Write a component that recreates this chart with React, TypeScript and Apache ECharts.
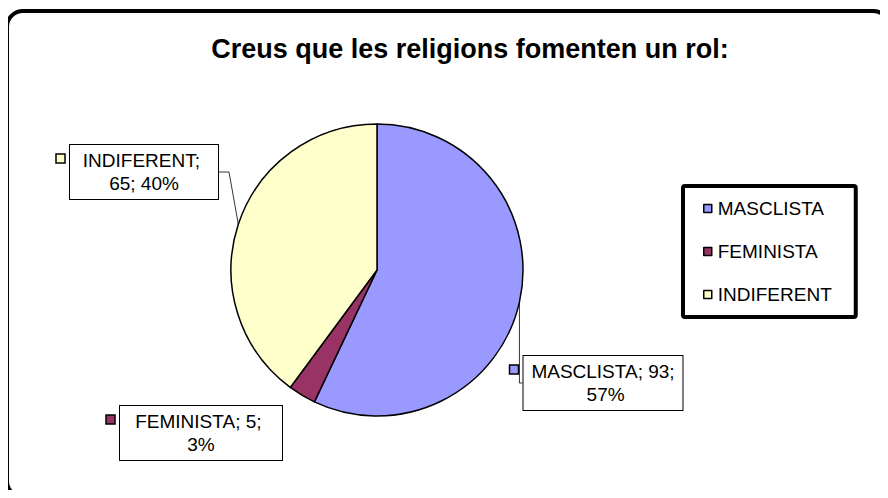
import React, { useEffect, useRef } from "react";
import * as echarts from "echarts";

const TITLE = "Creus que les religions fomenten un rol:";
const CATEGORIES = ["MASCLISTA", "FEMINISTA", "INDIFERENT"];
const VALUES = [93, 5, 65];
const COLORS = ["#9999FF", "#993366", "#FFFFCC"];

// label box layout (centre x, centre y, text width)
const LABEL_LAYOUT: Record<string, { x: number; y: number; w: number; line: boolean }> = {
  MASCLISTA: { x: 603, y: 383, w: 149, line: true },
  FEMINISTA: { x: 201, y: 433, w: 152, line: false },
  INDIFERENT: { x: 144, y: 172, w: 138, line: true },
};

export default function App() {
  const ref = useRef<HTMLDivElement>(null);
  useEffect(() => {
    if (!ref.current) return;
    const chart = echarts.init(ref.current, undefined, { renderer: "svg" });
    const font = "Liberation Sans, Arial, sans-serif";
    const data = CATEGORIES.map((name, i) => ({
      name,
      value: VALUES[i],
      itemStyle: { color: COLORS[i] },
      label: { width: LABEL_LAYOUT[name].w },
      labelLine: { show: LABEL_LAYOUT[name].line },
    }));
    const markers: any[] = CATEGORIES.map((name, i) => {
      const L = LABEL_LAYOUT[name];
      return {
        type: "rect",
        shape: { x: L.x - L.w / 2 - 5 - 14, y: L.y - 18, width: 9, height: 9 },
        style: { fill: COLORS[i], stroke: "#000", lineWidth: 1.5 },
        z: 10,
      };
    });
    chart.setOption({
      animation: false,
      backgroundColor: "#fff",
      title: {
        text: TITLE,
        left: 465,
        top: 30,
        textAlign: "center",
        textStyle: { fontFamily: font, fontSize: 27, fontWeight: "bold", color: "#000" },
      },
      legend: {
        orient: "vertical",
        left: 683,
        top: 186,
        data: CATEGORIES,
        icon: "rect",
        itemWidth: 8,
        itemHeight: 8,
        itemGap: 22,
        padding: [12, 24, 12, 20],
        backgroundColor: "#fff",
        borderColor: "#000",
        borderWidth: 4,
        borderRadius: 2,
        itemStyle: { borderColor: "#000", borderWidth: 1.5 },
        textStyle: { fontFamily: font, fontSize: 19, color: "#000", lineHeight: 21, padding: [0, 0, 0, 1] },
      },
      graphic: [
        {
          type: "rect",
          shape: { x: 7, y: 11, width: 882, height: 486, r: 16 },
          style: { fill: "none", stroke: "#000", lineWidth: 4 },
          z: 100,
        },
        ...markers,
      ],
      series: [
        {
          type: "pie",
          center: [377, 270],
          radius: 146,
          startAngle: 90,
          clockwise: true,
          percentPrecision: 0,
          itemStyle: { borderColor: "#000", borderWidth: 1.5 },
          emphasis: { disabled: true },
          data,
          label: {
            show: true,
            formatter: "{b}; {c}; {d}%",
            overflow: "break",
            fontFamily: font,
            fontSize: 19,
            lineHeight: 23,
            color: "#000",
            align: "center",
            backgroundColor: "#fff",
            borderColor: "#000",
            borderWidth: 1,
            padding: [4, 5, 4, 5],
          },
          labelLine: { lineStyle: { color: "#000", width: 0.8 }, length: 10, length2: 10 },
          labelLayout: (params: any) => {
            const L = LABEL_LAYOUT[CATEGORIES[params.dataIndex]];
            return { x: L.x, y: L.y, align: "center", verticalAlign: "middle" };
          },
        },
      ],
    });
    return () => chart.dispose();
  }, []);
  return <div ref={ref} style={{ width: 888, height: 498, margin: -8 }} />;
}
